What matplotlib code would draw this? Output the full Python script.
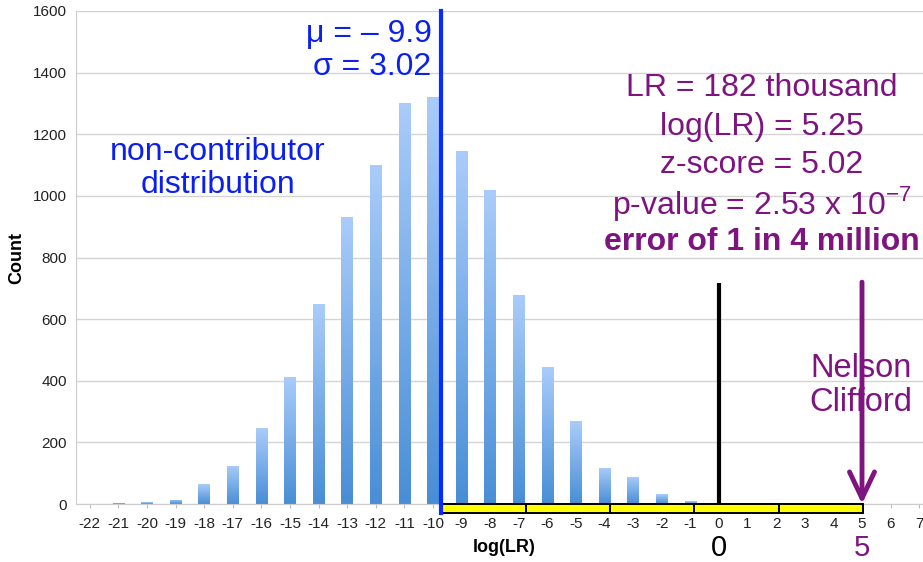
"""
Histogram of log(LR) for the non-contributor distribution, with the
Nelson Clifford result marked on the right.
"""

import matplotlib.pyplot as plt
import numpy as np

plt.rcParams["font.family"] = ["Liberation Sans", "DejaVu Sans"]

# Data
LOG_LR = list(range(-22, 8))
COUNTS = [0, 3, 6, 13, 64, 124, 246, 413, 649, 933, 1100, 1302, 1322,
          1146, 1020, 677, 444, 269, 117, 89, 32, 9, 3,
          0, 0, 0, 0, 0, 0, 0]
Y_TICKS = list(range(0, 1601, 200))

# Annotation values
MU_LINE_X = -9.72
SIGMA_STEPS = [-9.72, -6.76, -3.81, -0.86, 2.09, 5.02]
ZERO_X = 0
CLIFFORD_X = 5
STATS_LINES = ["LR = 182 thousand", "log(LR) = 5.25", "z-score = 5.02",
               r"p-value = 2.53 x 10$^{\mathregular{-7}}$"]

BLUE = "#0A2BFF"
PURPLE = "#7E1480"
TEXT_BLUE = "#0A1FF0"
BAR_TOP = np.array([0xAA, 0xCC, 0xFA]) / 255
BAR_BOT = np.array([0x48, 0x8E, 0xD6]) / 255


def draw_bars(ax):
    """Bars with a vertical light-to-dark gradient."""
    bars = ax.bar(LOG_LR, COUNTS, width=0.41, color="none", edgecolor="none")
    grad = np.linspace(0, 1, 256)[:, None]
    cols = BAR_TOP[None, :] * (1 - grad) + BAR_BOT[None, :] * grad
    img = np.repeat(cols[:, None, :], 2, axis=1)
    for b, h in zip(bars, COUNTS):
        if h <= 0:
            continue
        x0 = b.get_x()
        im = ax.imshow(img, extent=(x0, x0 + b.get_width(), 0, h),
                       aspect="auto", origin="upper", zorder=2)
        im.set_clip_path(b)


def main():
    fig = plt.figure(figsize=(9.23, 5.62), dpi=100)
    ax = fig.add_axes([75.5 / 923, 58 / 562, 858 / 923, 493 / 562])

    draw_bars(ax)

    ax.set_xlim(-22.5, 7.5)
    ax.set_ylim(0, 1600)
    ax.set_xticks(LOG_LR)
    ax.set_xticklabels([str(v) for v in LOG_LR], fontsize=11, color="#222222")
    ax.set_yticks(Y_TICKS)
    ax.set_yticklabels([str(v) for v in Y_TICKS], fontsize=11, color="#222222")
    ax.tick_params(axis="x", length=3, color="#BBBBBB", pad=6)
    ax.tick_params(axis="y", length=0, pad=6)
    ax.grid(axis="y", color="#D4D4D4", linewidth=1)
    ax.set_axisbelow(True)
    for side in ["top", "right"]:
        ax.spines[side].set_visible(False)
    ax.spines["left"].set_color("#CCCCCC")
    ax.spines["bottom"].set_color("#CCCCCC")

    ax.set_xlabel("log(LR)", fontsize=13, fontweight="bold")
    ax.xaxis.set_label_coords(0.5, -0.071)
    ax.set_ylabel("Count", fontsize=13, fontweight="bold")
    ax.yaxis.set_label_coords(-0.059, 0.5)

    # yellow sigma band under the axis
    band_h = 29
    for a, b in zip(SIGMA_STEPS[:-1], SIGMA_STEPS[1:]):
        ax.add_patch(plt.Rectangle((a, -band_h), b - a, band_h,
                                   facecolor="#FFFF00", edgecolor="black",
                                   linewidth=1.4, clip_on=False, zorder=4))

    # mean line
    ax.plot([MU_LINE_X, MU_LINE_X], [-band_h, 1600], color=BLUE,
            linewidth=3, clip_on=False, zorder=5)
    # zero line
    ax.plot([ZERO_X, ZERO_X], [0, 718], color="black", linewidth=3,
            solid_capstyle="butt", zorder=5)
    # Nelson Clifford arrow
    ax.annotate("", xy=(CLIFFORD_X, 0), xytext=(CLIFFORD_X, 720),
                arrowprops=dict(arrowstyle="->,head_length=0.95,head_width=0.45",
                                mutation_scale=20, color=PURPLE, linewidth=3.5,
                                shrinkA=0, shrinkB=0),
                zorder=5)
    ax.text(6.75, 385, "Nelson\nClifford", color=PURPLE, fontsize=23.5,
            ha="right", va="center", linespacing=1.12, zorder=6)

    ax.text(ZERO_X, -143, "0", color="black", fontsize=21,
            ha="center", va="center", clip_on=False)
    ax.text(CLIFFORD_X, -143, "5", color=PURPLE, fontsize=21,
            ha="center", va="center", clip_on=False)

    # distribution labels
    ax.text(-10.05, 1525, u"\u03bc = \u2013 9.9", color=TEXT_BLUE, fontsize=23,
            ha="right", va="center")
    ax.text(-10.05, 1418, u"\u03c3 = 3.02", color=TEXT_BLUE, fontsize=23,
            ha="right", va="center")
    ax.text(-17.52, 1088, "non-contributor\ndistribution", color=TEXT_BLUE,
            fontsize=23, ha="center", va="center", linespacing=1.12)

    # LR statistics
    stats_x = 1.5
    y0 = 1350
    for i, line in enumerate(STATS_LINES):
        ax.text(stats_x, y0 - i * 125, line, color=PURPLE, fontsize=23,
                ha="center", va="center")
    ax.text(stats_x, y0 - 4 * 125, "error of 1 in 4 million", color=PURPLE,
            fontsize=23, fontweight="bold", ha="center", va="center")

    fig.savefig("out.png", dpi=100)
    plt.close(fig)


if __name__ == "__main__":
    main()
